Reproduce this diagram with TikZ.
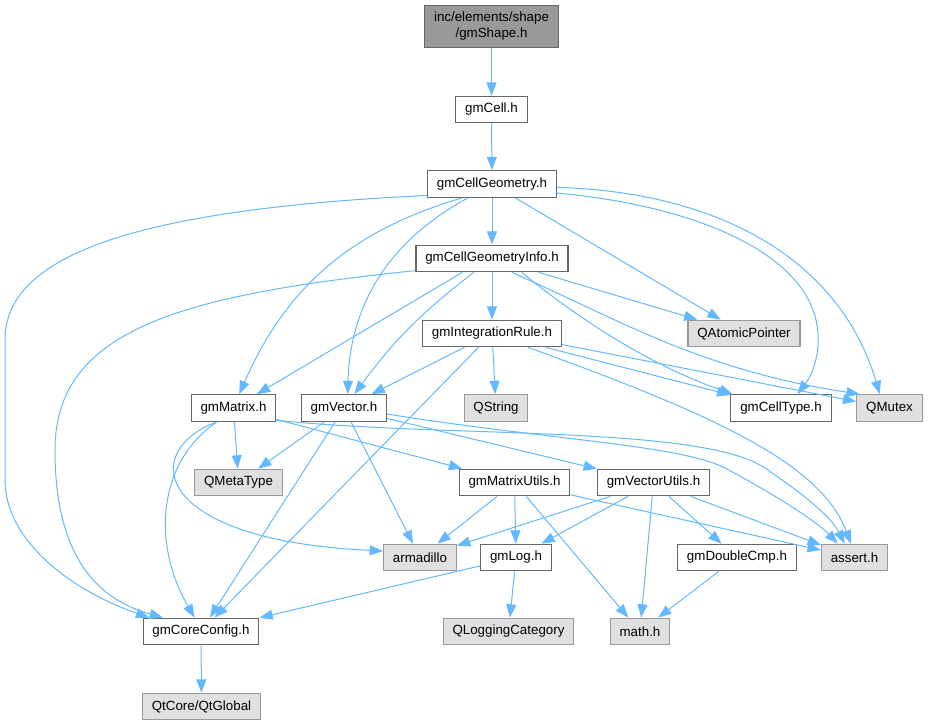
\documentclass[tikz,border=0pt]{standalone}
\usepackage{fontspec}
\setmainfont{Liberation Sans}
\usepackage{tikz}
\usetikzlibrary{shapes}
\usetikzlibrary{arrows.meta}
\definecolor{edgeblue}{HTML}{63B8FF}
\definecolor{boxline}{HTML}{666666}
\definecolor{sysline}{HTML}{999999}
\definecolor{sysfill}{HTML}{E0E0E0}
\definecolor{mainfill}{HTML}{999999}
\tikzstyle{header} = [rectangle,fill=white,draw=boxline,line width=0.8pt,
inner xsep=7pt, inner ysep=0pt, minimum height=20pt, font=\fontsize{10}{12}\selectfont]
\tikzstyle{system} = [header,fill=sysfill,draw=sysline]
\tikzstyle{source} = [header,fill=mainfill,align=center,minimum height=32pt]
\tikzstyle{dep} = [draw=edgeblue,line width=0.75pt,->,
>={Triangle[length=10pt,width=7.5pt]}]
\newcommand{\includeedge}[3][]{ %
  % Draw an include arrow from header #2 to all headers #3.
  \foreach \y in {#3} { %
    \path (#2) edge[dep, #1] (\y) ; %
  } ;
}

\begin{document}
\begin{tikzpicture}[x=0.75pt,y=-0.75pt]

	\useasboundingbox (0,0) rectangle (928,725);

	\node[source] (shape)           at (491.5,26.5)  {inc/elements/shape\\/gmShape.h};
	\node[header] (cell)            at (491.5,109.5) {gmCell.h};
	\node[header] (geometry)        at (492,184)     {gmCellGeometry.h};
	\node[header] (geometryInfo)    at (492,258.5)   {gmCellGeometryInfo.h};
	\node[header] (integrationRule) at (492,333.5)   {gmIntegrationRule.h};
	\node[system] (atomicPointer)   at (744,333.5)   {QAtomicPointer};
	\node[header] (matrix)          at (233.5,408)   {gmMatrix.h};
	\node[header] (vector)          at (344,408)     {gmVector.h};
	\node[system] (qstring)         at (496,408)     {QString};
	\node[header] (cellType)        at (781,408)     {gmCellType.h};
	\node[system] (mutex)           at (889.5,408)   {QMutex};
	\node[system] (metaType)        at (238.5,482.5) {QMetaType};
	\node[header] (matrixUtils)     at (514.5,482.5) {gmMatrixUtils.h};
	\node[header] (vectorUtils)     at (653.5,482.5) {gmVectorUtils.h};
	\node[system] (armadillo)       at (420,557.5)   {armadillo};
	\node[header] (log)             at (516,557.5)   {gmLog.h};
	\node[header] (doubleCmp)       at (737,557.5)   {gmDoubleCmp.h};
	\node[system] (assert)          at (854.5,557.5) {assert.h};
	\node[header] (coreConfig)      at (201,631.5)   {gmCoreConfig.h};
	\node[system] (loggingCategory) at (508.5,631.5) {QLoggingCategory};
	\node[system] (math)            at (640,631.5)   {math.h};
	\node[system] (qtGlobal)        at (201.5,706.5) {QtCore/QtGlobal};

	\includeedge {shape} {cell};
	\includeedge {cell} {geometry};
	\includeedge {geometry} {geometryInfo, atomicPointer};
	\includeedge[bend right=25] {geometry.-155} {matrix};
	\includeedge[bend right=30] {geometry.-150} {vector.75};
	\includeedge {geometryInfo} {integrationRule, atomicPointer};
	\includeedge {geometryInfo.-155} {matrix};
	\includeedge[bend right=8] {geometryInfo} {vector};
	\includeedge {integrationRule} {qstring, vector, cellType, coreConfig};
	\includeedge {integrationRule.-9} {mutex};
	\includeedge {matrix} {metaType, matrixUtils};
	\includeedge {vector} {metaType, armadillo, coreConfig, vectorUtils};
	\includeedge {matrixUtils} {armadillo, log, math, assert};
	\includeedge {vectorUtils} {armadillo, log, math, doubleCmp, assert};
	\includeedge {log} {coreConfig, loggingCategory};
	\includeedge {doubleCmp} {math};
	\includeedge {coreConfig} {qtGlobal};

	% long curved includes
	\draw[dep] (geometry.-170) .. controls (120,210) and (5,260) .. (5,340)
	  -- (5,480) .. controls (5,540) and (70,590) .. (coreConfig.165);
	\draw[dep] (geometry.-8) .. controls (690,205) and (800,250) .. (816,320)
	  .. controls (823,350) and (812,375) .. (cellType.40);
	\draw[dep] (geometry.-3) .. controls (720,192) and (840,260) .. (mutex.125);
	\draw[dep] (geometryInfo.-171) .. controls (180,295) and (55,330) .. (55,450)
	  .. controls (55,560) and (100,600) .. (coreConfig.160);
	\draw[dep] (geometryInfo.-35) .. controls (620,320) and (700,370) .. (mutex.155);
	\draw[dep] (geometryInfo.-25) .. controls (580,320) and (650,365) .. (cellType.164);
	\draw[dep] (integrationRule.-21) .. controls (700,410) and (820,460) .. (assert.105);
	\draw[dep] (matrix.-140) .. controls (160,460) and (150,540) .. (coreConfig.115);
	\draw[dep] (matrix.-140) .. controls (140,450) and (150,540) .. (armadillo.170);
	\draw[dep] (matrix.-16) .. controls (450,438) and (700,425) .. (765,468)
	  .. controls (800,492) and (830,515) .. (assert.125);
	\draw[dep] (vector.-8) .. controls (550,440) and (680,445) .. (725,468)
	  .. controls (770,492) and (815,520) .. (assert.140);

\end{tikzpicture}
\end{document}
